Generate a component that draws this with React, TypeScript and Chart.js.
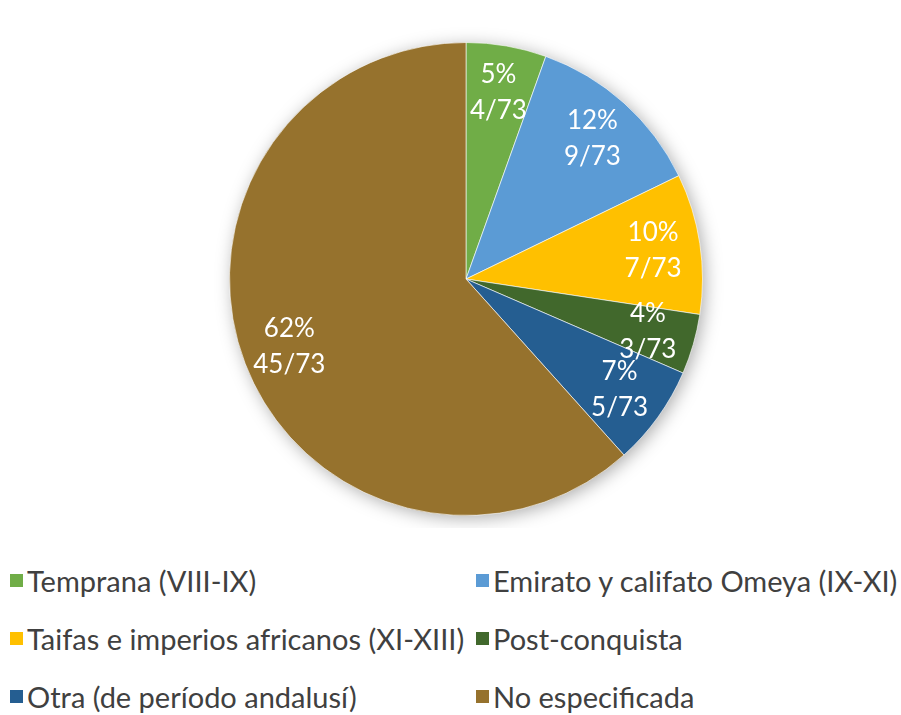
import React, { useEffect, useRef } from "react";
import { Chart, registerables } from "chart.js";

Chart.register(...registerables);

const categories = [
  "Temprana (VIII-IX)",
  "Emirato y califato Omeya (IX-XI)",
  "Taifas e imperios africanos (XI-XIII)",
  "Post-conquista",
  "Otra (de período andalusí)",
  "No especificada",
];
const counts = [4, 9, 7, 3, 5, 45];
const percentLabels = ["5%", "12%", "10%", "4%", "7%", "62%"];
const total = 73;
const colors = ["#70AD47", "#5B9BD5", "#FFC000", "#41682C", "#255E91", "#96722D"];

const FONT = "'Lato', sans-serif";

const shadowPlugin = {
  id: "pieShadow",
  beforeDatasetsDraw(chart: any) {
    const arc = chart.getDatasetMeta(0).data[0];
    if (!arc) return;
    const { x, y, outerRadius } = arc;
    const ctx = chart.ctx;
    ctx.save();
    ctx.shadowColor = "rgba(0,0,0,0.35)";
    ctx.shadowBlur = 18;
    ctx.shadowOffsetX = 3;
    ctx.shadowOffsetY = 3;
    ctx.beginPath();
    ctx.arc(x, y, outerRadius - 1, 0, Math.PI * 2);
    ctx.fillStyle = "#ffffff";
    ctx.fill();
    ctx.restore();
  },
};

const labelPlugin = {
  id: "sliceLabels",
  afterDatasetsDraw(chart: any) {
    const ctx = chart.ctx;
    const meta = chart.getDatasetMeta(0);
    ctx.save();
    ctx.fillStyle = "#ffffff";
    ctx.font = `26px ${FONT}`;
    ctx.textAlign = "center";
    ctx.textBaseline = "middle";
    meta.data.forEach((arc: any, i: number) => {
      const mid = (arc.startAngle + arc.endAngle) / 2;
      const r = arc.outerRadius * 0.8;
      const cx = arc.x + Math.cos(mid) * r;
      const cy = arc.y + Math.sin(mid) * r;
      ctx.fillText(percentLabels[i], cx, cy - 18);
      ctx.fillText(`${counts[i]}/${total}`, cx, cy + 18);
    });
    ctx.restore();
  },
};

function PieChart() {
  const ref = useRef<HTMLCanvasElement | null>(null);
  useEffect(() => {
    if (!ref.current) return;
    const chart = new Chart(ref.current, {
      type: "pie",
      data: {
        labels: categories,
        datasets: [
          {
            data: counts,
            backgroundColor: colors,
            borderColor: "rgba(255,255,255,0.6)",
            borderWidth: 1,
          },
        ],
      },
      options: {
        animation: false,
        responsive: false,
        layout: { padding: { top: 42, bottom: 12, left: 31, right: 0 } },
        plugins: {
          legend: { display: false },
          tooltip: { enabled: false },
        },
      },
      plugins: [shadowPlugin, labelPlugin],
    });
    return () => chart.destroy();
  }, []);
  return <canvas ref={ref} width={901} height={528} style={{ display: "block" }} />;
}

export default function App() {
  return (
    <div style={{ width: 901, height: 715, position: "relative", background: "#fff", overflow: "hidden" }}>
      <style>{"body{margin:0}"}</style>
      <PieChart />
      <div
        style={{
          display: "grid",
          gridTemplateColumns: "466px auto",
          gridAutoRows: "58px",
          marginLeft: 10,
          marginTop: 37,
          fontFamily: FONT,
          fontSize: 29,
          color: "#404040",
        }}
      >
        {categories.map((c, i) => (
          <div key={c} style={{ display: "flex", alignItems: "center", whiteSpace: "nowrap", height: 30 }}>
            <span
              style={{
                display: "inline-block",
                width: 13,
                height: 13,
                background: colors[i],
                marginRight: 4,
                flex: "none",
              }}
            />
            <span>{c}</span>
          </div>
        ))}
      </div>
    </div>
  );
}
